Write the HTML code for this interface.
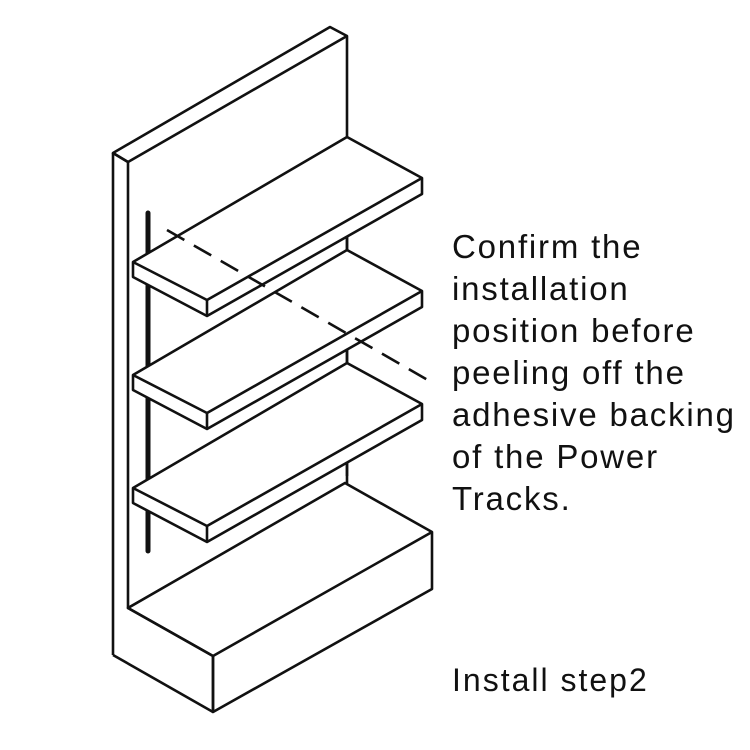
<!DOCTYPE html>
<html><head><style>
html,body{margin:0;padding:0;background:#fff;width:750px;height:750px;overflow:hidden}
svg{position:absolute;left:0;top:0}
.t{position:absolute;left:452px;font-family:"Liberation Sans","DejaVu Sans",sans-serif;color:#111;font-size:33px;letter-spacing:1.8px;line-height:42px;top:226px}
.s{position:absolute;left:452px;top:662px;font-family:"Liberation Sans","DejaVu Sans",sans-serif;color:#111;font-size:32px;letter-spacing:2px}
</style></head><body>
<svg width="750" height="750" viewBox="0 0 750 750" fill="none" stroke="#111" stroke-width="2.6" stroke-linejoin="round">
<polygon points="113,153 330,27 347,36 347,483 128,608 128,162" fill="#fff"/>
<line x1="113" y1="153" x2="128" y2="162"/>
<line x1="128" y1="162" x2="347" y2="36"/>
<line x1="113" y1="153" x2="113" y2="655"/>
<line x1="113" y1="655" x2="213" y2="712"/>
<line x1="148" y1="213" x2="148" y2="551" stroke-width="5" stroke-linecap="round"/>
<g id="sh">
<polygon points="133,262 347,137 422,178 422,194 207,316 133,277" fill="#fff"/>
<polyline points="133,262 207,300 422,178"/>
<line x1="207" y1="300" x2="207" y2="316"/>
<line x1="347" y1="237" x2="347" y2="250"/>
</g>
<use href="#sh" transform="translate(0,113)"/>
<use href="#sh" transform="translate(0,226)"/>
<polygon points="128,608 345,483 432,532 432,589 213,712 213,656" fill="#fff"/>
<polyline points="128,608 213,656 432,532"/>
<line x1="213" y1="656" x2="213" y2="712"/>
<line x1="167" y1="230" x2="433" y2="383" stroke-dasharray="20,11"/>
</svg>
<div class="t">Confirm the<br>installation<br>position before<br>peeling off the<br>adhesive backing<br>of the Power<br>Tracks.</div>
<div class="s">Install step2</div>
</body></html>
